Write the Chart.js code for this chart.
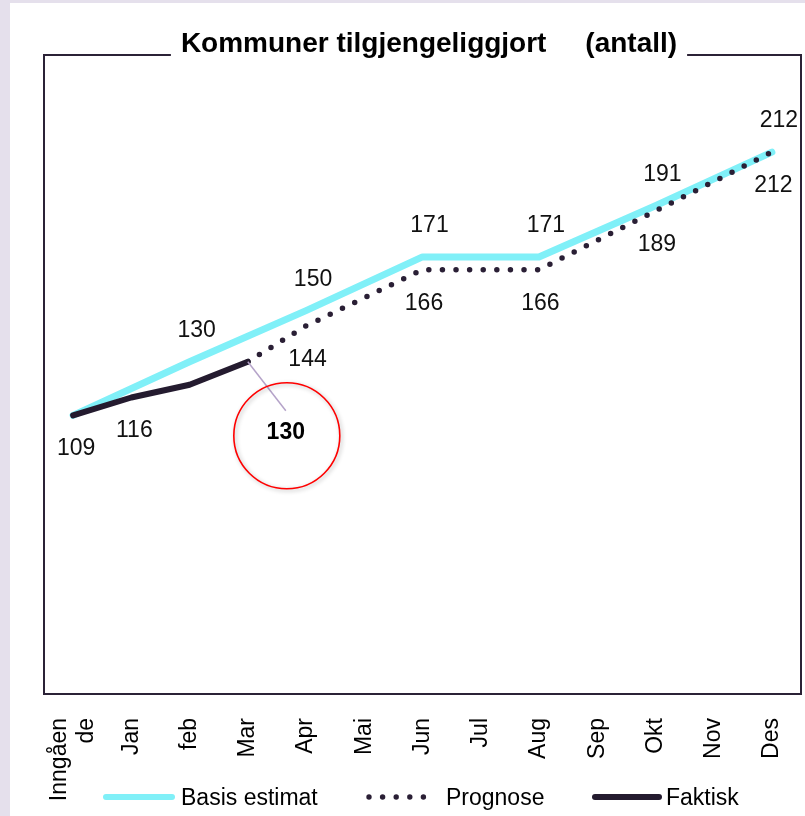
<!DOCTYPE html>
<html>
<head>
<meta charset="utf-8">
<script src="https://cdn.jsdelivr.net/npm/chart.js@4/dist/chart.umd.min.js"></script>
<style>
  html, body { margin: 0; padding: 0; background: #fff; overflow: hidden; }
  canvas { display: block; }
</style>
</head>
<body>
<canvas id="chart" width="805" height="816"></canvas>
<script>
// data
var categories = [["Inngåen", "de"], "Jan", "feb", "Mar", "Apr", "Mai", "Jun", "Jul", "Aug", "Sep", "Okt", "Nov", "Des"];
var basisEstimat = [109, null, 130, null, 150, null, 171, null, 171, null, 191, null, 212];
var prognose = [null, null, null, 130, 144, null, 166, null, 166, null, 189, null, 212];
var faktisk = [109, 116, 121, 130, null, null, null, null, null, null, null, null, null];
var faktiskLabelIdx = [0, 1];
var calloutIdx = 3;
var titleText = "Kommuner tilgjengeliggjort     (antall)";

var W = 805, H = 816;
var FONT = '"Liberation Sans", Arial, sans-serif';

// where the value labels sit relative to their points
var labelOffsets = [
    { dx: 7, dy: -31 },   // basis
    { dx: 1.5, dy: 34 },  // prognose
    { dx: 3, dy: 33 }     // faktisk
];

var overlay = {
    id: 'overlay',
    beforeDraw: function (chart) {
        var ctx = chart.ctx;
        ctx.save();
        ctx.fillStyle = '#e5e0ec';
        ctx.fillRect(0, 0, W, H);
        ctx.fillStyle = '#ffffff';
        ctx.fillRect(10, 3, W - 10, H - 3);
        ctx.restore();
    },
    afterDraw: function (chart) {
        var ctx = chart.ctx;
        var a = chart.chartArea;
        ctx.save();

        // title
        ctx.font = 'bold 28px ' + FONT;
        ctx.fillStyle = '#000';
        ctx.textAlign = 'left';
        ctx.textBaseline = 'alphabetic';
        var tw = ctx.measureText(titleText).width;
        var tx = 429 - tw / 2;
        ctx.fillText(titleText, tx, 52);

        // frame with a gap for the title
        ctx.strokeStyle = '#2b2236';
        ctx.lineWidth = 2;
        ctx.beginPath();
        ctx.moveTo(tx - 10, a.top);
        ctx.lineTo(a.left, a.top);
        ctx.lineTo(a.left, a.bottom);
        ctx.lineTo(a.right, a.bottom);
        ctx.lineTo(a.right, a.top);
        ctx.lineTo(tx + tw + 10, a.top);
        ctx.stroke();

        // x tick labels, rotated
        var xs = chart.scales.x;
        ctx.font = '23px ' + FONT;
        ctx.fillStyle = '#000';
        ctx.textAlign = 'right';
        ctx.textBaseline = 'middle';
        categories.forEach(function (c, i) {
            var lines = Array.isArray(c) ? c : [c];
            var px = xs.getPixelForTick(i);
            ctx.save();
            ctx.translate(px, a.bottom + 24);
            ctx.rotate(-Math.PI / 2);
            lines.forEach(function (l, j) {
                ctx.fillText(l, 0, (j - (lines.length - 1) / 2) * 27);
            });
            ctx.restore();
        });

        // value labels
        ctx.textAlign = 'center';
        ctx.fillStyle = '#111';
        chart.data.datasets.forEach(function (ds, di) {
            var meta = chart.getDatasetMeta(di);
            var off = labelOffsets[di];
            ds.data.forEach(function (v, i) {
                if (v === null) return;
                if (di === 0 && i === 0) return;
                if (di === 1 && i === calloutIdx) return;
                if (di === 2 && faktiskLabelIdx.indexOf(i) < 0) return;
                var p = meta.data[i];
                ctx.fillText(String(v), p.x + off.dx, p.y + off.dy);
            });
        });

        // callout for latest actual value
        var pt = chart.getDatasetMeta(2).data[calloutIdx];
        var cx = pt.x + 39, cy = pt.y + 74;
        ctx.strokeStyle = '#b5a3c9';
        ctx.lineWidth = 1.5;
        ctx.beginPath();
        ctx.moveTo(pt.x, pt.y);
        ctx.lineTo(pt.x + 38, pt.y + 49);
        ctx.stroke();
        ctx.save();
        ctx.shadowColor = 'rgba(0,0,0,0.3)';
        ctx.shadowBlur = 4;
        ctx.shadowOffsetX = 1.5;
        ctx.shadowOffsetY = 1.5;
        ctx.strokeStyle = '#ff0000';
        ctx.lineWidth = 1.6;
        ctx.beginPath();
        ctx.arc(cx, cy, 53, 0, Math.PI * 2);
        ctx.stroke();
        ctx.restore();
        ctx.font = 'bold 23px ' + FONT;
        ctx.fillStyle = '#000';
        ctx.fillText(String(faktisk[calloutIdx]), cx - 1, cy - 3);

        // legend
        var ly = 797;
        ctx.lineCap = 'round';
        ctx.lineWidth = 6;
        ctx.strokeStyle = chart.data.datasets[0].borderColor;
        ctx.beginPath(); ctx.moveTo(106, ly); ctx.lineTo(172, ly); ctx.stroke();
        ctx.strokeStyle = chart.data.datasets[2].borderColor;
        ctx.beginPath(); ctx.moveTo(595, ly); ctx.lineTo(659, ly); ctx.stroke();
        ctx.fillStyle = chart.data.datasets[1].borderColor;
        for (var k = 0; k < 5; k++) {
            ctx.beginPath();
            ctx.arc(369 + k * 13.6, ly, 2.7, 0, Math.PI * 2);
            ctx.fill();
        }
        ctx.font = '23px ' + FONT;
        ctx.fillStyle = '#000';
        ctx.textAlign = 'left';
        ctx.textBaseline = 'alphabetic';
        ctx.fillText(chart.data.datasets[0].label, 181, 805);
        ctx.fillText(chart.data.datasets[1].label, 446, 805);
        ctx.fillText(chart.data.datasets[2].label, 666, 805);

        ctx.restore();
    }
};

new Chart('chart', {
    type: 'line',
    data: {
        labels: categories,
        datasets: [{
            label: 'Basis estimat',
            data: basisEstimat,
            borderColor: '#80f0f8',
            borderWidth: 7,
            borderCapStyle: 'round',
            borderJoinStyle: 'round',
            pointRadius: 0,
            spanGaps: true,
            order: 3
        }, {
            label: 'Prognose',
            data: prognose,
            borderColor: '#2a1f35',
            borderWidth: 5.5,
            borderDash: [0, 13.6],
            borderCapStyle: 'round',
            pointRadius: 0,
            spanGaps: true,
            order: 2
        }, {
            label: 'Faktisk',
            data: faktisk,
            borderColor: '#241b2f',
            borderWidth: 6,
            borderCapStyle: 'round',
            borderJoinStyle: 'round',
            pointRadius: 0,
            spanGaps: false,
            order: 1
        }]
    },
    options: {
        responsive: false,
        animation: false,
        devicePixelRatio: 1,
        layout: { padding: { left: 44, right: 4, top: 55, bottom: 0 } },
        plugins: {
            legend: { display: false },
            title: { display: false },
            tooltip: { enabled: false }
        },
        scales: {
            x: {
                offset: true,
                grid: { display: false },
                border: { display: false },
                ticks: { display: false },
                afterFit: function (s) { s.height = 122; }
            },
            y: {
                display: false,
                min: 0,
                max: 250
            }
        }
    },
    plugins: [overlay]
});
</script>
</body>
</html>
